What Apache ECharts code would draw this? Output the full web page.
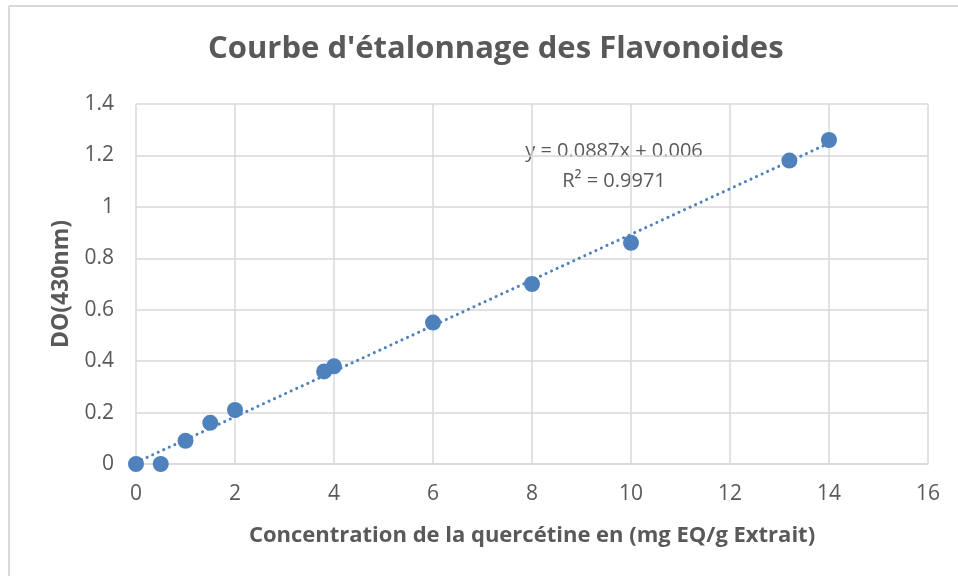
<!DOCTYPE html>
<html>
<head>
<meta charset="utf-8">
<script src="https://cdn.jsdelivr.net/npm/echarts@6/dist/echarts.min.js"></script>
<style>
  html, body { margin: 0; padding: 0; background: #fff; }
  #chart { width: 958px; height: 576px; }
</style>
</head>
<body>
<div id="chart"></div>
<script>
// concentration (mg EQ/g extrait) and absorbance at 430nm
const concentration = [0, 0.5, 1, 1.5, 2, 3.8, 4, 6, 8, 10, 13.2, 14];
const absorbance = [0, 0, 0.09, 0.16, 0.21, 0.36, 0.38, 0.55, 0.70, 0.86, 1.18, 1.26];
// trendline as printed on the chart
const slope = 0.0887;
const intercept = 0.006;
const trendX = [0, 14];

const points = concentration.map((x, i) => [x, absorbance[i]]);
const trend = trendX.map(x => [x, slope * x + intercept]);

const textColor = "#595959";
const font = "'Open Sans', Lato, sans-serif";

const chartDom = document.getElementById("chart");
const myChart = echarts.init(chartDom);
const option = {
  animation: false,
  textStyle: { fontFamily: font },
  title: {
    text: "Courbe d'étalonnage des Flavonoides",
    left: 203,
    top: 29,
    textStyle: { fontSize: 31, fontWeight: "bold", color: textColor, fontFamily: font },
  },
  grid: { left: 136, right: 30, top: 104, bottom: 112 },
  xAxis: {
    type: "value",
    min: 0,
    max: 16,
    interval: 2,
    name: "Concentration de la quercétine en (mg EQ/g Extrait)",
    nameLocation: "middle",
    nameGap: 61,
    nameTextStyle: { fontSize: 22, fontWeight: "bold", color: textColor },
    axisLine: { show: true, lineStyle: { color: "#d9d9d9", width: 1.5 } },
    axisTick: { show: false },
    axisLabel: { fontSize: 21, color: textColor, margin: 20 },
    splitLine: { show: true, lineStyle: { color: "#d9d9d9", width: 1.5 } },
  },
  yAxis: {
    type: "value",
    min: 0,
    max: 1.4,
    interval: 0.2,
    name: "DO(430nm)",
    nameLocation: "middle",
    nameGap: 63,
    nameTextStyle: { fontSize: 23, fontWeight: "bold", color: textColor },
    axisLine: { show: false },
    axisTick: { show: false },
    axisLabel: { fontSize: 21, color: textColor, margin: 22 },
    splitLine: { show: true, lineStyle: { color: "#d9d9d9", width: 1.5 } },
  },
  graphic: [
    {
      type: "line",
      shape: { x1: 9, y1: 6, x2: 9, y2: 576 },
      style: { stroke: "#d9d9d9", lineWidth: 2 },
    },
    {
      type: "line",
      shape: { x1: 9, y1: 6, x2: 958, y2: 6 },
      style: { stroke: "#d9d9d9", lineWidth: 2 },
    },
    {
      type: "text",
      x: 614,
      y: 151,
      style: {
        text: "y = 0.0887x + 0.006",
        fontSize: 20,
        fill: textColor,
        fontFamily: font,
        textAlign: "center",
        textVerticalAlign: "middle",
      },
    },
    {
      type: "text",
      x: 614,
      y: 181,
      style: {
        text: "R² = 0.9971",
        fontSize: 20,
        fill: textColor,
        fontFamily: font,
        textAlign: "center",
        textVerticalAlign: "middle",
      },
    },
  ],
  series: [
    {
      name: "trend",
      type: "line",
      data: trend,
      symbol: "none",
      lineStyle: { color: "#4f81bd", width: 3, type: [0.1, 6], cap: "round" },
      z: 2,
    },
    {
      name: "DO",
      type: "scatter",
      data: points,
      symbolSize: 16,
      itemStyle: { color: "#4f81bd", opacity: 1 },
      z: 3,
    },
  ],
};
myChart.setOption(option);
</script>
</body>
</html>
